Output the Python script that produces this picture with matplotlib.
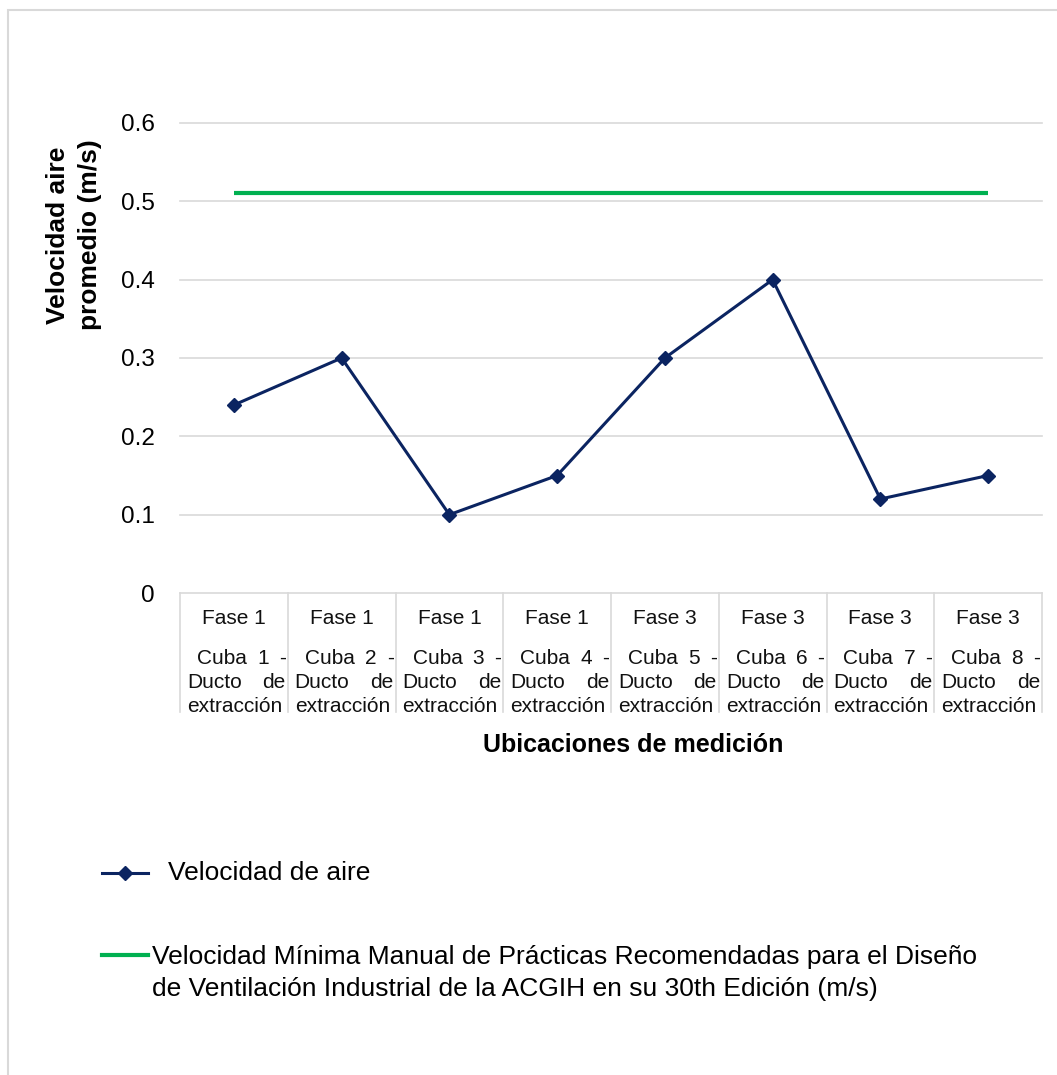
import matplotlib
matplotlib.use("Agg")
import matplotlib.pyplot as plt
from matplotlib.lines import Line2D
from matplotlib.patches import Rectangle

plt.rcParams['font.family'] = ['Liberation Sans', 'DejaVu Sans']

# mediciones por ubicación
fases = ["Fase 1", "Fase 1", "Fase 1", "Fase 1", "Fase 3", "Fase 3", "Fase 3", "Fase 3"]
cubas = [1, 2, 3, 4, 5, 6, 7, 8]
velocidad = [0.24, 0.30, 0.10, 0.15, 0.30, 0.40, 0.12, 0.15]
vel_minima = 0.51
yticks = [0, 0.1, 0.2, 0.3, 0.4, 0.5, 0.6]
ytick_labels = ["0", "0.1", "0.2", "0.3", "0.4", "0.5", "0.6"]

navy = "#0b2461"
green = "#00b050"
grid_c = "#d9d9d9"

W, H = 1057, 1075
fig = plt.figure(figsize=(W / 100, H / 100), dpi=100)
ax = fig.add_axes([180 / W, 1 - 593 / H, 862 / W, 470 / H])

x = list(range(len(velocidad)))
ax.plot(x, [vel_minima] * len(x), color=green, lw=3.0, solid_capstyle='butt', zorder=3)
ax.plot(x, velocidad, color=navy, lw=2.2, marker='D', ms=7, zorder=4)

ax.set_xlim(-0.5, len(x) - 0.5)
ax.set_ylim(0, 0.6)
ax.set_yticks(yticks)
ax.set_yticklabels(ytick_labels, fontsize=17.5)
ax.tick_params(axis='y', length=0, pad=18)
ax.set_xticks([])
for s in ax.spines.values():
    s.set_visible(False)
ax.grid(axis='y', color=grid_c, lw=1.2)
for ln in ax.get_ygridlines():
    ln.set_clip_on(False)
ax.set_axisbelow(True)

# tabla de categorías debajo del eje
ax_h_px = 470
depth = 119
for b in [i - 0.5 for i in range(len(x) + 1)]:
    ax.plot([b, b], [0, -depth / ax_h_px], color=grid_c, lw=1.2,
            transform=ax.get_xaxis_transform(), clip_on=False)

renderer = fig.canvas.get_renderer()
cell_w = 862 / len(x)
cat_fs = 15


def justified(xc, words, dy, indent=0):
    left = -cell_w / 2 + 7 + indent
    right = cell_w / 2 - 2
    texts = []
    widths = []
    for w in words:
        t = ax.annotate(w, xy=(xc, 0), xycoords=('data', 'axes fraction'),
                        xytext=(0, -dy), textcoords='offset pixels',
                        ha='left', va='center', fontsize=cat_fs, color='#111111')
        texts.append(t)
        widths.append(t.get_window_extent(renderer).width)
    gap = (right - left - sum(widths)) / (len(words) - 1)
    pos = left
    for t, w in zip(texts, widths):
        t.xyann = (pos, -dy)
        pos += w + gap


for i, (f, c) in enumerate(zip(fases, cubas)):
    ax.annotate(f, xy=(i, 0), xycoords=('data', 'axes fraction'),
                xytext=(0, -25), textcoords='offset pixels',
                ha='center', va='center', fontsize=cat_fs, color='#111111')
    justified(i, ["Cuba", str(c), "-"], 65, indent=10)
    justified(i, ["Ducto", "de"], 90)
    ax.annotate("extracción", xy=(i, 0), xycoords=('data', 'axes fraction'),
                xytext=(-cell_w / 2 + 7, -114), textcoords='offset pixels',
                ha='left', va='center', fontsize=cat_fs, color='#111111')

fig.text(633 / W, 1 - 745 / H, "Ubicaciones de medición", ha='center', va='center',
         fontsize=18, fontweight='bold')
fig.text(74 / W, 1 - 235 / H, "Velocidad aire\npromedio (m/s)", ha='center', va='center',
         rotation=90, fontsize=19, fontweight='bold', multialignment='center',
         linespacing=1.45)

# leyenda
fig.add_artist(Line2D([102 / W, 148 / W], [1 - 873 / H] * 2, color=navy, lw=2.2,
                      transform=fig.transFigure))
fig.add_artist(Line2D([125 / W], [1 - 873 / H], color=navy, marker='D', ms=7,
                      transform=fig.transFigure))
fig.text(168 / W, 1 - 873 / H, "Velocidad de aire", ha='left', va='center', fontsize=19)
fig.add_artist(Line2D([102 / W, 148 / W], [1 - 955 / H] * 2, color=green, lw=3.0,
                      transform=fig.transFigure))
fig.text(152 / W, 1 - 945 / H,
         "Velocidad Mínima Manual de Prácticas Recomendadas para el Diseño\n"
         "de Ventilación Industrial de la ACGIH en su 30th Edición (m/s)",
         ha='left', va='top', fontsize=19, linespacing=1.42)

# marco del gráfico
fig.add_artist(Rectangle((8 / W, -0.1), 1.2, 1 - 10 / H + 0.1, transform=fig.transFigure,
                         fill=False, edgecolor=grid_c, lw=1.5))

fig.savefig("out.png", dpi=100)
